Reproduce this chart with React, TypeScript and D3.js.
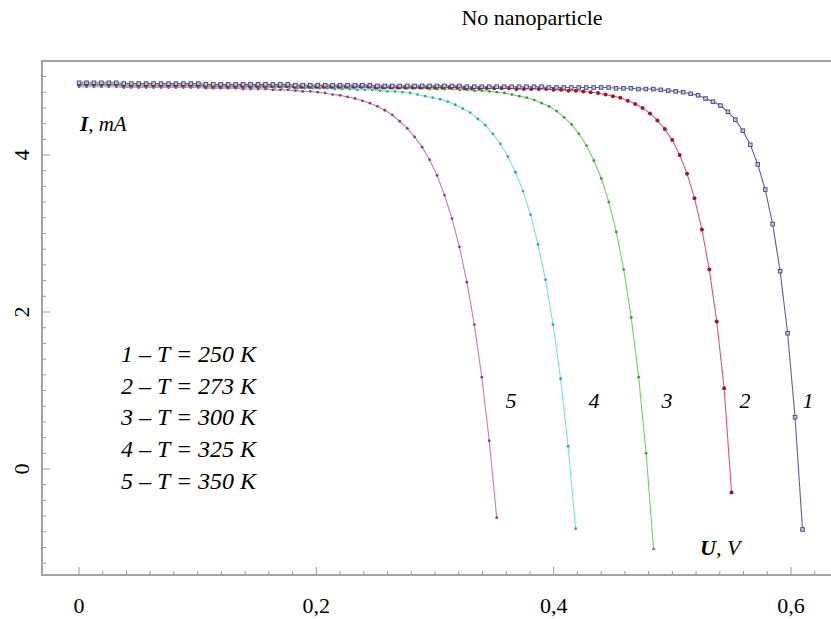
import * as d3 from 'd3';

const width = 831;
const height = 619;

// end voltage of every measured series (V); points are evenly spaced from 0
const seriesNames = ['1', '2', '3', '4', '5'];
const temperatures = [250, 273, 300, 325, 350];
const endVoltages = [0.6097, 0.5499, 0.4842, 0.4185, 0.352];

// current, mA
const current1 = [
  4.92, 4.92, 4.92, 4.92, 4.92, 4.92,
  4.91, 4.91, 4.91, 4.91, 4.91, 4.91, 4.91, 4.91, 4.91, 4.91, 4.91,
  4.90, 4.90, 4.90, 4.90, 4.90, 4.90, 4.90, 4.90, 4.90, 4.90, 4.90, 4.90,
  4.89, 4.89, 4.89, 4.89, 4.89, 4.89, 4.89, 4.89, 4.89, 4.89, 4.89,
  4.88, 4.88, 4.88, 4.88, 4.88, 4.88, 4.88, 4.88, 4.88, 4.88, 4.88, 4.88,
  4.87, 4.87, 4.87, 4.87, 4.87, 4.87, 4.87, 4.87, 4.87, 4.87, 4.87,
  4.86, 4.86, 4.86, 4.86, 4.86, 4.86, 4.86, 4.86, 4.86,
  4.85, 4.85, 4.85, 4.84, 4.84, 4.84,
  4.83, 4.82, 4.81, 4.80, 4.78, 4.76, 4.72, 4.68, 4.63, 4.55,
  4.45, 4.31, 4.13, 3.88, 3.56, 3.12, 2.52, 1.73, 0.66, -0.77,
];
const current2 = [
  4.90, 4.90, 4.90, 4.90, 4.90, 4.90,
  4.89, 4.89, 4.89, 4.89, 4.89, 4.89, 4.89, 4.89, 4.89, 4.89, 4.89,
  4.88, 4.88, 4.88, 4.88, 4.88, 4.88, 4.88, 4.88, 4.88, 4.88, 4.88, 4.88,
  4.87, 4.87, 4.87, 4.87, 4.87, 4.87, 4.87, 4.87, 4.87, 4.87, 4.87,
  4.86, 4.86, 4.86, 4.86, 4.86, 4.86, 4.86, 4.86, 4.86, 4.86, 4.86, 4.86,
  4.85, 4.85, 4.85, 4.85, 4.85, 4.85, 4.85,
  4.84, 4.84, 4.84, 4.84, 4.84, 4.83, 4.83, 4.82, 4.82,
  4.81, 4.80, 4.79, 4.77, 4.75, 4.73, 4.69, 4.65, 4.60, 4.53,
  4.44, 4.33, 4.19, 4.00, 3.76, 3.45, 3.05, 2.54, 1.88, 1.03, -0.30,
];
const current3 = [
  4.89, 4.89, 4.89, 4.89, 4.89, 4.89,
  4.88, 4.88, 4.88, 4.88, 4.88, 4.88, 4.88, 4.88, 4.88, 4.88, 4.88,
  4.87, 4.87, 4.87, 4.87, 4.87, 4.87, 4.87, 4.87, 4.87, 4.87, 4.87, 4.87,
  4.86, 4.86, 4.86, 4.86, 4.86, 4.86, 4.86, 4.86, 4.86, 4.86, 4.86,
  4.85, 4.85, 4.85, 4.85, 4.85, 4.85, 4.85,
  4.84, 4.84, 4.84, 4.84, 4.83, 4.83, 4.82, 4.82,
  4.81, 4.80, 4.79, 4.77, 4.75, 4.73, 4.70, 4.66, 4.62, 4.56, 4.48,
  4.39, 4.27, 4.12, 3.93, 3.70, 3.40, 3.02, 2.54, 1.93, 1.17, 0.20, -1.02,
];
const current4 = [
  4.88, 4.88, 4.88, 4.88, 4.88, 4.88,
  4.87, 4.87, 4.87, 4.87, 4.87, 4.87, 4.87, 4.87, 4.87, 4.87, 4.87,
  4.86, 4.86, 4.86, 4.86, 4.86, 4.86, 4.86, 4.86, 4.86, 4.86, 4.86, 4.86,
  4.85, 4.85, 4.85, 4.85, 4.85, 4.84, 4.84, 4.84, 4.83, 4.83, 4.83,
  4.82, 4.81, 4.81,
  4.80, 4.79, 4.77, 4.75, 4.73, 4.71, 4.68, 4.64, 4.59, 4.54, 4.46, 4.38,
  4.27, 4.14, 3.98, 3.78, 3.54, 3.24, 2.86, 2.41, 1.84, 1.15, 0.29, -0.76,
];
const current5 = [
  4.87, 4.87, 4.87, 4.87, 4.87, 4.87,
  4.86, 4.86, 4.86, 4.86, 4.86, 4.86, 4.86, 4.86, 4.86, 4.86, 4.86,
  4.85, 4.85, 4.85, 4.85, 4.85, 4.84, 4.84, 4.84, 4.84,
  4.83, 4.83, 4.83, 4.82, 4.81, 4.81,
  4.80, 4.79, 4.77, 4.76, 4.74, 4.72, 4.69, 4.66, 4.62, 4.57, 4.51, 4.43,
  4.34, 4.23, 4.10, 3.94, 3.74, 3.49, 3.19, 2.83, 2.38, 1.84, 1.17, 0.36, -0.62,
];
const currents = [current1, current2, current3, current4, current5];

const xTickLabels = ['0', '0,2', '0,4', '0,6'];
const yTickLabels = ['0', '2', '4'];

const lineColors = ['#5d6199', '#e25a62', '#74d074', '#78e2e2', '#c47cc4'];
const markerColors = ['#3f4382', '#a3162a', '#3d9a3d', '#35a5a5', '#8a3d8a'];
// where the number of each curve sits
const labelPos = [
  { x: 808, y: 408 }, { x: 745, y: 408 }, { x: 667, y: 408 },
  { x: 594, y: 408 }, { x: 511, y: 408 },
];

const frame = { left: 42, top: 61, bottom: 575, right: 840 };

const x = d3.scaleLinear().domain([0, 0.6]).range([79, 791]);
const y = d3.scaleLinear().domain([0, 4]).range([469, 155]);

const serif = '"Liberation Serif", "Times New Roman", serif';

export default function App() {
  const line = d3.line<[number, number]>()
    .x(d => x(d[0]))
    .y(d => y(d[1]));

  const series = currents.map((cur, i) => {
    const step = endVoltages[i] / (cur.length - 1);
    return cur.map((c, k) => [k * step, c] as [number, number]);
  });

  const xMinor = d3.range(0, 0.64, 0.02).map(v => +v.toFixed(2));
  const yMinor = d3.range(-1.2, 5.21, 0.2).map(v => +v.toFixed(1));

  return (
    <svg width={width} height={height} style={{ position: 'absolute', left: 0, top: 0, background: '#fff' }}>
      <text x={532} y={25} textAnchor='middle' fontFamily={serif} fontSize={22}>No nanoparticle</text>

      {/* frame */}
      <rect x={frame.left} y={frame.top} width={frame.right - frame.left} height={frame.bottom - frame.top}
        fill='none' stroke='#a3a3a3' strokeWidth={2} />

      {xMinor.map(v => {
        const major = Math.abs(v * 10 - Math.round(v * 10)) < 1e-6 && Math.round(v * 10) % 2 === 0;
        return (
          <line key={'x' + v} x1={x(v)} x2={x(v)} y1={frame.bottom} y2={frame.bottom - (major ? 8 : 4)}
            stroke='#999' strokeWidth={1} />
        );
      })}
      {yMinor.map(v => {
        const major = Math.abs(v % 2) < 1e-6;
        return (
          <line key={'y' + v} x1={frame.left} x2={frame.left + (major ? 8 : 4)} y1={y(v)} y2={y(v)}
            stroke='#999' strokeWidth={1} />
        );
      })}

      {xTickLabels.map((t, i) => (
        <text key={t} x={x(i * 0.2)} y={613} textAnchor='middle' fontFamily={serif} fontSize={22}>{t}</text>
      ))}
      {yTickLabels.map((t, i) => (
        <text key={t} transform={`translate(29, ${y(i * 2)}) rotate(-90)`} textAnchor='middle'
          fontFamily={serif} fontSize={22}>{t}</text>
      ))}

      {/* curves, 5 drawn first so 1 stays on top */}
      {series.map((pts, i) => ({ pts, i })).reverse().map(({ pts, i }) => (
        <g key={'s' + i}>
          <path d={line(pts) ?? ''} fill='none' stroke={lineColors[i]} strokeWidth={1.1} />
          {pts.map((p, k) => i === 0 ? (
            <rect key={k} x={x(p[0]) - 1.8} y={y(p[1]) - 1.8} width={3.6} height={3.6}
              fill='#c4c8e6' stroke={markerColors[i]} strokeWidth={0.9} />
          ) : (
            <circle key={k} cx={x(p[0])} cy={y(p[1])} r={i === 1 ? 2 : 1.4} fill={markerColors[i]} />
          ))}
        </g>
      ))}

      {seriesNames.map((n, i) => (
        <text key={'n' + n} x={labelPos[i].x} y={labelPos[i].y} textAnchor='middle'
          fontFamily={serif} fontStyle='italic' fontSize={22}>{n}</text>
      ))}

      {/* legend */}
      {seriesNames.map((n, i) => (
        <text key={'l' + n} x={121} y={362 + i * 31.7} fontFamily={serif} fontStyle='italic' fontSize={24}>
          {`${n} – T = ${temperatures[i]} K`}
        </text>
      ))}

      <text x={80} y={131} fontFamily={serif} fontStyle='italic' fontSize={21}>
        <tspan fontWeight='bold'>I</tspan>, mA
      </text>
      <text x={700} y={555} fontFamily={serif} fontStyle='italic' fontSize={22}>
        <tspan fontWeight='bold'>U</tspan>, V
      </text>
    </svg>
  );
}
